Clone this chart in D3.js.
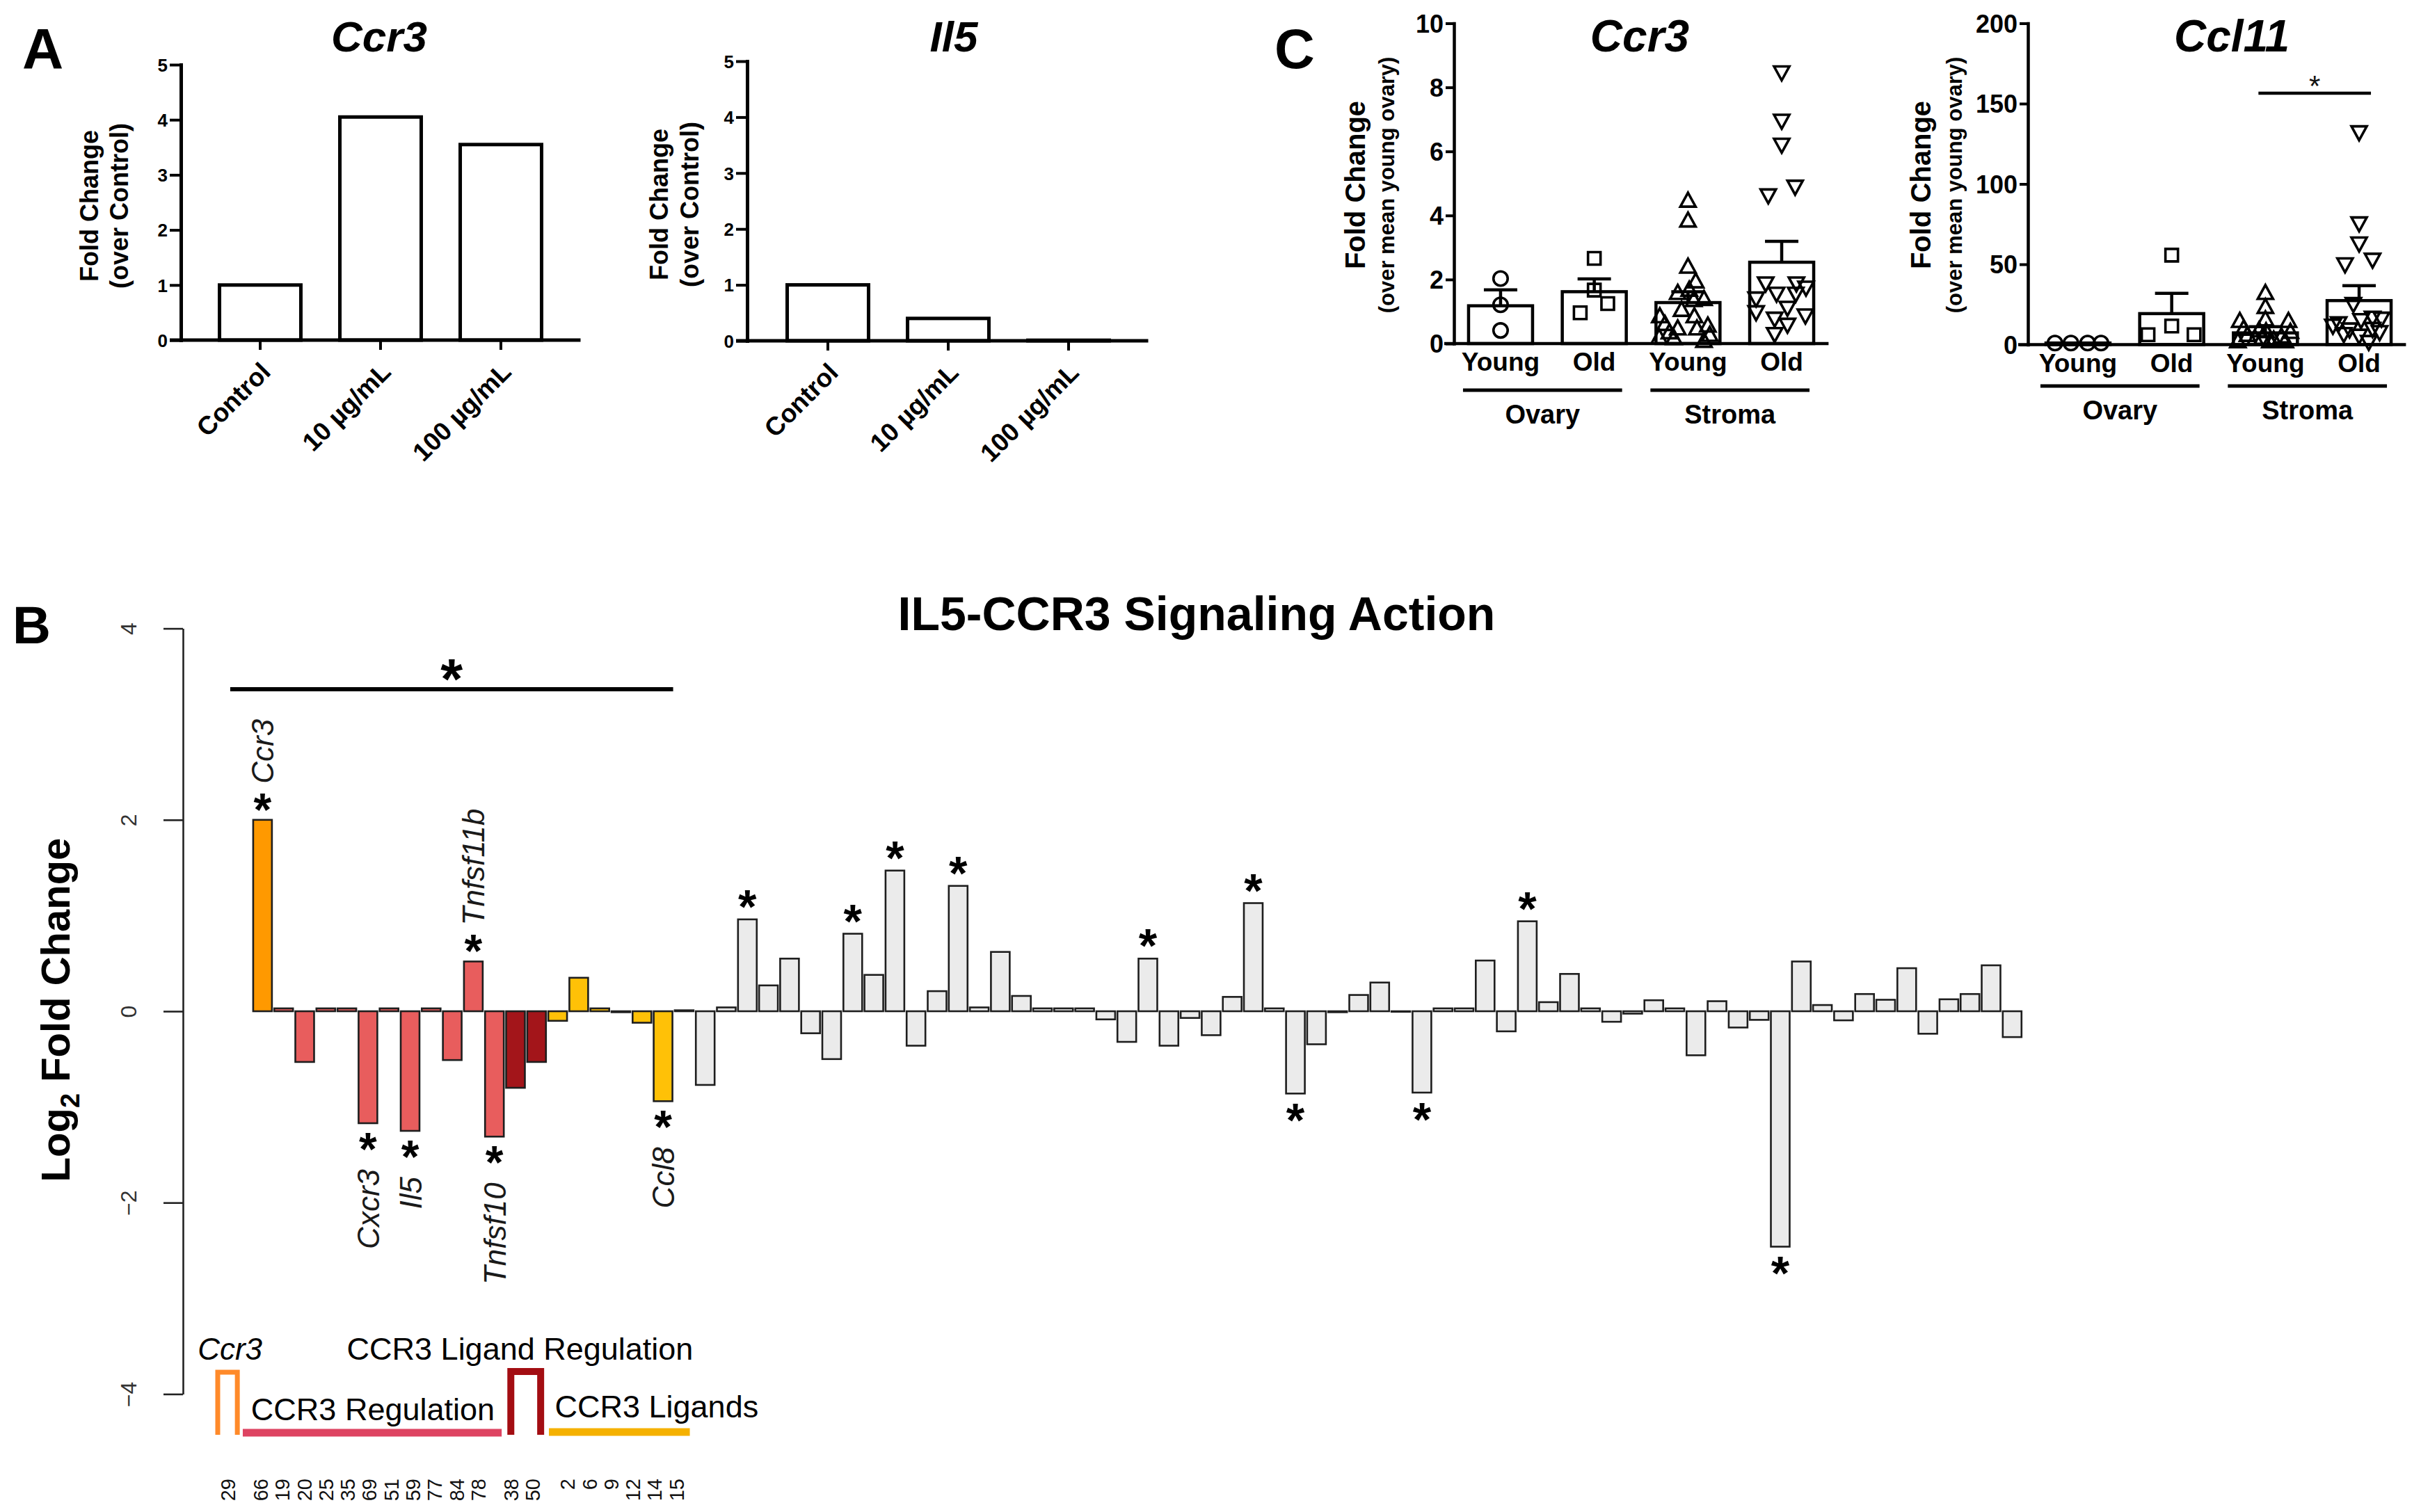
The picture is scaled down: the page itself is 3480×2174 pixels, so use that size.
<!DOCTYPE html>
<html><head><meta charset="utf-8">
<script src="https://cdn.jsdelivr.net/npm/d3@7"></script>
<style>
body{margin:0;background:#fff}
svg{display:block}
text{font-family:"Liberation Sans",Arial,Helvetica,sans-serif}
</style>
</head><body>
<svg id="fig" width="3480" height="2174"></svg>
<script>
// ---------------- DATA ----------------
// Panel A
const aCategories = ["Control", "10 µg/mL", "100 µg/mL"];
const aCcr3Fold = [1.0, 4.05, 3.55];
const aIl5Fold = [1.0, 0.40, 0.01];
const aTicks = [0, 1, 2, 3, 4, 5];

// Panel B
const bTitle = "IL5-CCR3 Signaling Action";
const bGroupNames = ["Ccr3", "CCR3 Regulation", "CCR3 Ligand Regulation", "CCR3 Ligands", "Other"];
const bGroupCounts = [1, 11, 2, 6, 64];
const bValues = [
  2.00, 0.03, -0.53, 0.03, 0.03, -1.17, 0.03, -1.25, 0.03, -0.51, 0.52, -1.31,
  -0.80, -0.53,
  -0.10, 0.35, 0.03, -0.01, -0.12, -0.94,
  0.01, -0.77, 0.04, 0.96, 0.27, 0.55, -0.23, -0.50, 0.81, 0.38, 1.47, -0.36, 0.21, 1.31,
  0.04, 0.62, 0.16, 0.03, 0.03, 0.03, -0.085, -0.32, 0.55, -0.36, -0.07, -0.25, 0.15, 1.13,
  0.03, -0.86, -0.345, -0.01, 0.17, 0.30, -0.005, -0.85, 0.03, 0.03, 0.53, -0.21, 0.94,
  0.095, 0.39, 0.03, -0.11, -0.025, 0.115, 0.03, -0.46, 0.105, -0.17, -0.09, -2.46, 0.52,
  0.065, -0.095, 0.18, 0.12, 0.45, -0.235, 0.125, 0.18, 0.48, -0.27
];
const bSignificant = [0, 5, 7, 10, 11, 19, 23, 28, 30, 33, 42, 47, 49, 55, 60, 72];
const bGeneLabels = ["Ccr3", "Cxcr3", "Il5", "Tnfsf11b", "Tnfsf10", "Ccl8"];
const bGeneLabelIdx = [0, 5, 7, 10, 11, 19];
const bIds = ["29", "66", "19", "20", "25", "35", "69", "51", "59", "77", "84", "78", "38", "50", "2", "6", "9", "12", "14", "15"];
const bYTicks = [-4, -2, 0, 2, 4];

// Panel C
const cGroups = ["Young", "Old", "Young", "Old"];
const cTissues = ["Ovary", "Stroma"];
const cCcr3Mean = [1.18, 1.62, 1.28, 2.54];
const cCcr3SEM = [0.50, 0.40, 0.34, 0.65];
const cCcr3Ticks = [0, 2, 4, 6, 8, 10];
const cCcr3YoungOvary = [[2.03,0],[1.21,0],[0.41,0]];
const cCcr3OldOvary = [[2.66,0],[1.67,0],[0.96,-0.22],[1.25,0.21]];
const cCcr3YoungStroma = [[4.45,0],[3.83,0],[2.39,0],[1.93,0.12],[1.57,-0.16],[1.67,0.02],[1.38,0.25],[1.35,0.09],[0.84,-0.44],[1.04,-0.10],[0.84,0.10],[0.55,0.31],[0.60,-0.36],[0.34,-0.29],[0.46,-0.16],[0.18,-0.45],[0.46,0.14],[0.07,0.25],[0.16,-0.22],[0.26,0.34]];
const cCcr3OldStroma = [[8.48,0],[6.97,0],[6.22,0],[4.91,0.21],[4.64,-0.21],[1.89,-0.25],[1.89,0.23],[1.76,0.38],[1.57,-0.08],[1.42,-0.40],[1.57,0.22],[1.13,0.09],[0.99,-0.40],[0.89,0.37],[0.79,-0.11],[0.60,0.09],[0.31,-0.11]];

const cCcl11Mean = [1.0, 19.3, 7.3, 27.4];
const cCcl11SEM = [0, 12.6, 3.9, 9.3];
const cCcl11Ticks = [0, 50, 100, 150, 200];
const cCcl11YoungOvary = [[1,-0.36],[1,-0.11],[1,0.15],[1,0.36]];
const cCcl11OldOvary = [[55.7,0],[11.6,0],[6.2,-0.37],[6.2,0.35]];
const cCcl11YoungStroma = [[31.9,0],[23.2,0],[15.5,0],[14.5,-0.40],[14.5,0.36],[9.7,-0.34],[7.7,0.39],[8.7,-0.10],[8.1,0.01],[5.8,-0.28],[4.8,0.25],[3.5,-0.16],[2.9,0.13],[1.9,-0.43],[1.9,0.31],[1.9,0.07],[4.0,-0.05]];
const cCcl11OldStroma = [[132.4,0],[75.7,0],[63.2,0],[53.1,0.21],[50.2,-0.22],[25.5,-0.09],[17.0,0.21],[13.5,-0.32],[15.5,0.03],[16.4,0.35],[9.7,-0.15],[10.0,0.21],[6.8,-0.24],[1.9,0.15],[5.8,0],[12.0,-0.41],[8.0,0.32]];

// ---------------- DRAW ----------------
const svg = d3.select("#fig");
svg.append("rect").attr("width", 3480).attr("height", 2174).attr("fill", "#fff");

function rotLabel(g, x, y, txt, fs, weight, anchor, opts = {}) {
  return g.append("text")
    .attr("transform", `translate(${x},${y}) rotate(-90)`)
    .attr("text-anchor", anchor || "middle")
    .attr("font-size", fs).attr("font-weight", weight || "bold")
    .attr("font-style", opts.italic ? "italic" : "normal")
    .attr("fill", opts.fill || "#000")
    .text(txt);
}

// ----- Panel A -----
function panelA(cfg) {
  const g = svg.append("g");
  const y = d3.scaleLinear().domain([0, 5]).range([cfg.y0, cfg.y5]);
  const x = d3.scaleBand().domain(aCategories).range(cfg.xRange).paddingInner(0.324).paddingOuter(0.162);
  g.append("g").selectAll("rect").data(cfg.values).join("rect")
    .attr("x", (d, i) => x(aCategories[i]))
    .attr("y", d => y(d))
    .attr("width", x.bandwidth())
    .attr("height", d => y(0) - y(d))
    .attr("fill", "none").attr("stroke", "#000").attr("stroke-width", 5);
  // y axis
  const gy = g.append("g").attr("transform", `translate(${cfg.axisX},0)`)
    .call(d3.axisLeft(y).tickValues(aTicks).tickSize(16).tickSizeOuter(0).tickFormat(d3.format("d")));
  gy.select(".domain").attr("stroke-width", 5).attr("stroke-linecap", "square");
  gy.selectAll(".tick line").attr("stroke-width", 4);
  gy.selectAll(".tick text").attr("font-size", 26).attr("font-weight", "bold")
    .attr("font-family", '"Liberation Sans",Arial,sans-serif').attr("x", -19).attr("dy", "0.36em");
  // x axis
  g.append("line").attr("x1", cfg.axisX - 16).attr("x2", cfg.xRange[1] + 28)
    .attr("y1", y(0)).attr("y2", y(0)).attr("stroke", "#000").attr("stroke-width", 5);
  const gx = g.append("g").attr("transform", `translate(0,${y(0)})`)
    .call(d3.axisBottom(x).tickSize(14).tickSizeOuter(0));
  gx.select(".domain").remove();
  gx.selectAll(".tick line").attr("stroke-width", 4);
  gx.selectAll(".tick text").attr("font-size", 37).attr("font-weight", "bold")
    .attr("font-family", '"Liberation Sans",Arial,sans-serif')
    .attr("text-anchor", "end").attr("x", 0).attr("y", 0).attr("dy", 0)
    .attr("transform", "translate(17,48) rotate(-45)");
  // title
  g.append("text").attr("x", cfg.titleX).attr("y", 74).attr("text-anchor", "middle")
    .attr("font-size", 62).attr("font-weight", "bold").attr("font-style", "italic").text(cfg.title);
  // y label
  const cy = (cfg.y0 + cfg.y5) / 2 + 5;
  rotLabel(g, cfg.labX1, cy, "Fold Change", 36, "bold");
  rotLabel(g, cfg.labX2, cy, "(over Control)", 36, "bold");
}
panelA({ axisX: 260, y0: 489, y5: 93, xRange: [287.5, 806.5], values: aCcr3Fold, title: "Ccr3", titleX: 545, labX1: 141, labX2: 184 });
panelA({ axisX: 1074, y0: 490, y5: 88, xRange: [1103.5, 1622.5], values: aIl5Fold, title: "Il5", titleX: 1371, labX1: 960, labX2: 1004 });
svg.append("text").attr("x", 32).attr("y", 98).attr("font-size", 82).attr("font-weight", "bold").text("A");

// ----- Panel C -----
const markerPaths = [
  d3.symbol(d3.symbolCircle, 330)(),
  "M-9,-9H9V9H-9Z",
  "M0,-12L11,8L-11,8Z",
  "M0,12L11,-8L-11,-8Z"
];
function panelC(cfg) {
  const g = svg.append("g");
  const y = d3.scaleLinear().domain([0, cfg.max]).range(cfg.yRange);
  const x = d3.scaleBand().domain(d3.range(4)).range(cfg.xRange).paddingInner(0.317).paddingOuter(0.1585);
  const bw = x.bandwidth();
  // bars
  g.append("g").selectAll("rect").data(cfg.means).join("rect")
    .attr("x", (d, i) => x(i)).attr("y", d => y(d))
    .attr("width", bw).attr("height", d => y(0) - y(d))
    .attr("fill", "none").attr("stroke", "#000").attr("stroke-width", 4.5);
  // error bars
  const eb = g.append("g").attr("stroke", "#000").attr("stroke-width", 4.5);
  cfg.means.forEach((m, i) => {
    if (!cfg.sems[i]) return;
    const cx = x(i) + bw / 2;
    eb.append("line").attr("x1", cx).attr("x2", cx).attr("y1", y(m)).attr("y2", y(m + cfg.sems[i]));
    eb.append("line").attr("x1", cx - 24).attr("x2", cx + 24).attr("y1", y(m + cfg.sems[i])).attr("y2", y(m + cfg.sems[i]));
  });
  // points
  cfg.points.forEach((pts, i) => {
    g.append("g").selectAll("path").data(pts).join("path")
      .attr("d", markerPaths[i])
      .attr("transform", d => `translate(${x(i) + bw / 2 + d[1] * bw},${y(d[0])})`)
      .attr("fill", "none").attr("stroke", "#000").attr("stroke-width", 3.6);
  });
  // axes
  const gy = g.append("g").attr("transform", `translate(${cfg.axisX},0)`)
    .call(d3.axisLeft(y).tickValues(cfg.ticks).tickSize(12).tickSizeOuter(0).tickFormat(d3.format("d")));
  gy.select(".domain").attr("stroke-width", 4.5).attr("stroke-linecap", "square");
  gy.selectAll(".tick line").attr("stroke-width", 4);
  gy.selectAll(".tick text").attr("font-size", 36).attr("font-weight", "bold")
    .attr("font-family", '"Liberation Sans",Arial,sans-serif').attr("x", -15).attr("dy", "0.36em");
  g.append("line").attr("x1", cfg.axisX - 14).attr("x2", cfg.xRange[1])
    .attr("y1", y(0)).attr("y2", y(0)).attr("stroke", "#000").attr("stroke-width", 4.5);
  // x labels
  g.append("g").selectAll("text").data(cGroups).join("text")
    .attr("x", (d, i) => x(i) + bw / 2).attr("y", y(0) + 39)
    .attr("text-anchor", "middle").attr("font-size", 37).attr("font-weight", "bold").text(d => d);
  // tissue group lines
  cTissues.forEach((t, k) => {
    const x1 = x(2 * k) - 8, x2 = x(2 * k + 1) + bw - 6;
    g.append("line").attr("x1", x1).attr("x2", x2).attr("y1", cfg.groupLineY).attr("y2", cfg.groupLineY)
      .attr("stroke", "#000").attr("stroke-width", 5);
    g.append("text").attr("x", (x1 + x2) / 2).attr("y", cfg.groupLineY + 48)
      .attr("text-anchor", "middle").attr("font-size", 38).attr("font-weight", "bold").text(t);
  });
  // title
  g.append("text").attr("x", cfg.titleX).attr("y", 74).attr("text-anchor", "middle")
    .attr("font-size", 64).attr("font-weight", "bold").attr("font-style", "italic").text(cfg.title);
  // y label
  rotLabel(g, cfg.labX1, 266, "Fold Change", 40, "bold");
  rotLabel(g, cfg.labX2, 266, "(over mean young ovary)", 31, "bold");
  return { g, x, y };
}
panelC({ axisX: 2090, yRange: [494, 33.5], max: 10, ticks: cCcr3Ticks, xRange: [2089.6, 2628.4],
  means: cCcr3Mean, sems: cCcr3SEM, points: [cCcr3YoungOvary, cCcr3OldOvary, cCcr3YoungStroma, cCcr3OldStroma],
  groupLineY: 561, title: "Ccr3", titleX: 2357, labX1: 1962, labX2: 2004 });
const pc2 = panelC({ axisX: 2915, yRange: [495.5, 33.5], max: 200, ticks: cCcl11Ticks, xRange: [2919.6, 3458.4],
  means: cCcl11Mean, sems: cCcl11SEM, points: [cCcl11YoungOvary, cCcl11OldOvary, cCcl11YoungStroma, cCcl11OldStroma],
  groupLineY: 555, title: "Ccl11", titleX: 3208, labX1: 2775, labX2: 2820 });
// significance in Ccl11
{
  const bw = pc2.x.bandwidth();
  const x1 = pc2.x(2) + bw / 2 - 10, x2 = pc2.x(3) + bw / 2 + 17;
  pc2.g.append("line").attr("x1", x1).attr("x2", x2).attr("y1", 134).attr("y2", 134)
    .attr("stroke", "#000").attr("stroke-width", 4.5);
  pc2.g.append("text").attr("x", (x1 + x2) / 2).attr("y", 138).attr("text-anchor", "middle")
    .attr("font-size", 42).attr("fill", "#111").text("*");
}
svg.append("text").attr("x", 1832).attr("y", 98).attr("font-size", 80).attr("font-weight", "bold").text("C");

// ----- Panel B -----
const gB = svg.append("g");
const bColors = ["#FF9900", "#E85D5D", "#A3151A", "#FFC107", "#EBEBEB"];
const bGroupOf = [];
bGroupCounts.forEach((c, k) => { for (let j = 0; j < c; j++) bGroupOf.push(k); });

const xB = d3.scaleBand().domain(d3.range(bValues.length))
  .range([362.25, 362.25 + bValues.length * 30.3]).paddingInner(0.11).paddingOuter(0.055);
const yB = d3.scaleLinear().domain([-4, 4]).range([2004.4, 903.6]);
const bw = xB.bandwidth();
const cxB = i => xB(i) + bw / 2;

gB.append("g").selectAll("rect").data(bValues).join("rect")
  .attr("x", (d, i) => xB(i))
  .attr("y", d => yB(Math.max(0, d)))
  .attr("width", bw)
  .attr("height", d => Math.abs(yB(d) - yB(0)))
  .attr("fill", (d, i) => bColors[bGroupOf[i]])
  .attr("stroke", "#1e1e1e").attr("stroke-width", 2.6);

// y axis
const gyB = gB.append("g").attr("transform", "translate(263,0)")
  .call(d3.axisLeft(yB).tickValues(bYTicks).tickSize(28).tickSizeOuter(0));
gyB.select(".domain").attr("stroke", "#222").attr("stroke-width", 2.6);
gyB.selectAll(".tick line").attr("stroke", "#222").attr("stroke-width", 2.6);
gyB.selectAll(".tick text").attr("font-size", 32).attr("fill", "#333")
  .attr("font-family", '"Liberation Sans",Arial,sans-serif')
  .attr("x", 0).attr("dy", 0).attr("text-anchor", "middle")
  .attr("transform", "translate(-67,0) rotate(-90)");

// y label
{
  const t = gB.append("text").attr("transform", "translate(100,1452) rotate(-90)")
    .attr("text-anchor", "middle").attr("font-size", 58).attr("font-weight", "bold");
  t.append("tspan").text("Log");
  t.append("tspan").attr("font-size", 38).attr("dy", 14).text("2");
  t.append("tspan").attr("dy", -14).text(" Fold Change");
}
// title
gB.append("text").attr("x", 1720).attr("y", 906).attr("text-anchor", "middle")
  .attr("font-size", 68).attr("font-weight", "bold").text(bTitle);
gB.append("text").attr("x", 18).attr("y", 925).attr("font-size", 76).attr("font-weight", "bold").text("B");

// top significance bar over first groups
{
  const first = bGroupCounts[0] + bGroupCounts[1] + bGroupCounts[2] + bGroupCounts[3];
  const x1 = xB(0) - 33, x2 = xB(first - 1) + bw + 1;
  gB.append("line").attr("x1", x1).attr("x2", x2).attr("y1", 991).attr("y2", 991)
    .attr("stroke", "#000").attr("stroke-width", 6);
  gB.append("text").attr("x", (x1 + x2) / 2).attr("y", 1004).attr("text-anchor", "middle")
    .attr("font-size", 82).attr("font-weight", "bold").text("*");
}

// stars on significant, unlabeled bars
const labeledSet = new Set(bGeneLabelIdx);
gB.append("g").selectAll("text").data(bSignificant.filter(i => !labeledSet.has(i))).join("text")
  .attr("x", i => cxB(i))
  .attr("y", i => bValues[i] >= 0 ? yB(bValues[i]) + 5 : yB(bValues[i]) + 62)
  .attr("text-anchor", "middle").attr("font-size", 68).attr("font-weight", "bold").text("*");

// gene labels with stars
bGeneLabelIdx.forEach((i, k) => {
  const v = bValues[i];
  const cx = cxB(i);
  if (v >= 0) {
    gB.append("text").attr("x", cx).attr("y", yB(v) + 8).attr("text-anchor", "middle")
      .attr("font-size", 66).attr("font-weight", "bold").text("*");
    rotLabel(gB, cx + 16, yB(v) - 52, bGeneLabels[k], 44, "normal", "start", { italic: true, fill: "#1a1a1a" });
  } else {
    gB.append("text").attr("x", cx).attr("y", yB(v) + 60).attr("text-anchor", "middle")
      .attr("font-size", 66).attr("font-weight", "bold").text("*");
    rotLabel(gB, cx + 16, yB(v) + 66, bGeneLabels[k], 44, "normal", "end", { italic: true, fill: "#1a1a1a" });
  }
});

// legend / group annotation
{
  const lg = gB.append("g");
  const lx = d3.scaleLinear().domain([0, 1]).range([328, 359.3]);
  const gaps = [0, 0.5, 1.0, 1.6];
  const pos = [];
  let idx = 0;
  for (let k = 0; k < 4; k++) for (let j = 0; j < bGroupCounts[k]; j++) { pos.push(idx + gaps[k]); idx++; }
  lg.selectAll("text.id").data(bIds).join("text").attr("class", "id")
    .attr("transform", (d, i) => `translate(${lx(pos[i]) + 10},2126) rotate(-90)`)
    .attr("text-anchor", "end").attr("font-size", 29).attr("fill", "#111").text(d => d);
  const legColors = ["#FF8A2A", "#DE4462", "#A30D12", "#F5B100"];
  const bracket = (a, b, top, bottom, col, sw) =>
    lg.append("path").attr("d", `M${lx(a)},${bottom}V${top}H${lx(b)}V${bottom}`)
      .attr("fill", "none").attr("stroke", col).attr("stroke-width", sw);
  bracket(-0.48, 0.42, 1973, 2063, legColors[0], 7);
  lg.append("line").attr("x1", lx(0.67)).attr("x2", lx(12.56)).attr("y1", 2060).attr("y2", 2060)
    .attr("stroke", legColors[1]).attr("stroke-width", 11);
  bracket(12.98, 14.35, 1972, 2063, legColors[2], 10);
  lg.append("line").attr("x1", lx(14.73)).attr("x2", lx(21.2)).attr("y1", 2059).attr("y2", 2059)
    .attr("stroke", legColors[3]).attr("stroke-width", 11);
  lg.append("text").attr("x", lx(-1.4)).attr("y", 1955).attr("font-size", 44).attr("font-style", "italic").text("Ccr3");
  lg.append("text").attr("x", lx(1.05)).attr("y", 2042).attr("font-size", 45).text(bGroupNames[1]);
  lg.append("text").attr("x", lx(5.45)).attr("y", 1955).attr("font-size", 45).text(bGroupNames[2]);
  lg.append("text").attr("x", lx(15.0)).attr("y", 2038).attr("font-size", 45).text(bGroupNames[3]);
}
</script>
</body></html>
